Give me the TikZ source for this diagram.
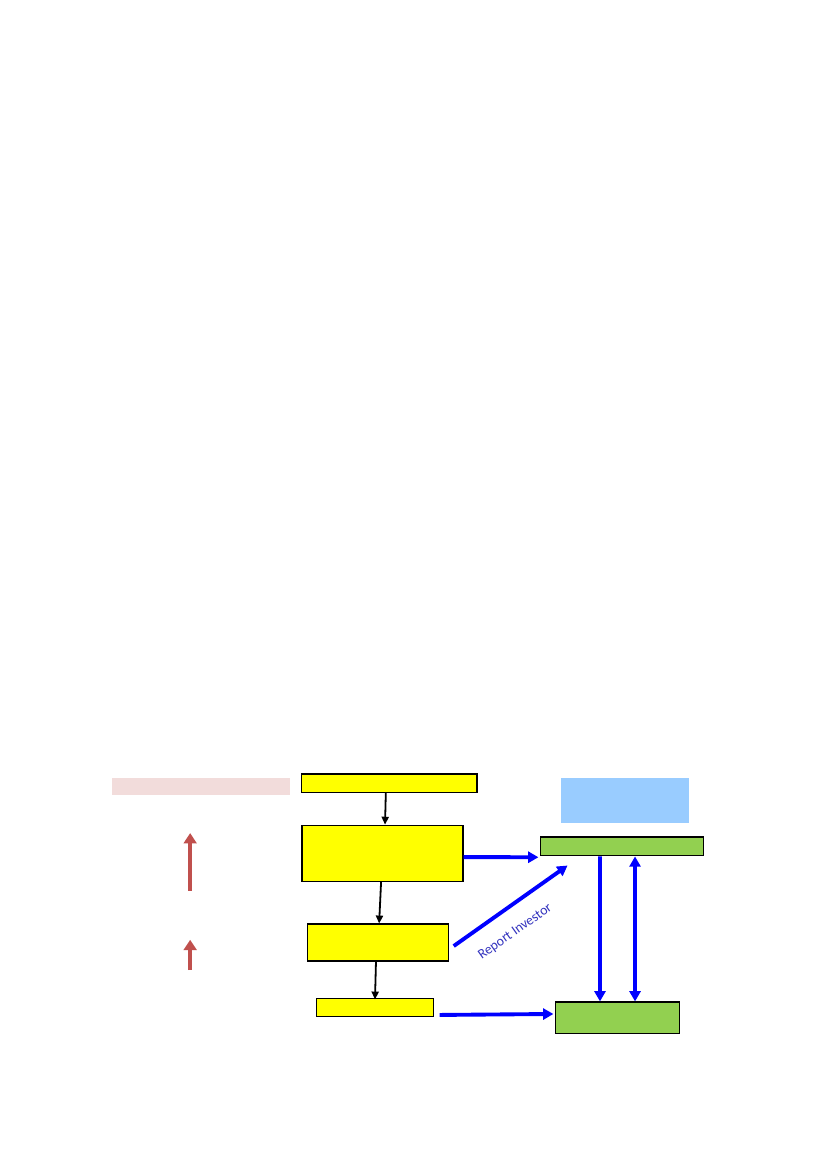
\documentclass[tikz,border=0pt]{standalone}
\usepackage{fontspec}
\setmainfont{Carlito}
\usetikzlibrary{arrows.meta}
\definecolor{boxyellow}{RGB}{255,255,0}
\definecolor{boxgreen}{RGB}{146,208,80}
\definecolor{boxblue}{RGB}{153,204,255}
\definecolor{boxpink}{RGB}{242,220,219}
\definecolor{uparrow}{RGB}{192,80,77}
\definecolor{labelblue}{RGB}{51,51,190}
\begin{document}
\begin{tikzpicture}[x=1mm,y=-1mm,
    ybox/.style={draw=black,line width=0.8pt,fill=boxyellow,inner sep=0pt},
    gbox/.style={draw=black,line width=0.8pt,fill=boxgreen,inner sep=0pt},
    flatbox/.style={inner sep=0pt,outer sep=0pt},
    karrow/.style={-{Triangle[length=2mm,width=1.8mm]},line width=1.3pt,black},
    barrow/.style={-{Triangle[length=2.6mm,width=2.8mm]},line width=2.8pt,blue},
    rarrow/.style={-{Triangle[length=2.6mm,width=3.2mm]},line width=2.9pt,uparrow}]
  \useasboundingbox (0,0) rectangle (210.06,296.93);
        \node[flatbox,fill=boxpink,minimum width=45.2mm,minimum height=4.3mm] (pink) at (51.05,199.75) {};
        \node[flatbox,fill=boxblue,minimum width=32.5mm,minimum height=11.4mm] (sky) at (158.8,203.3) {};
        \node[ybox,minimum width=44.5mm,minimum height=4.6mm] (top) at (98.9,198.9) {};
        \node[ybox,minimum width=40.9mm,minimum height=14.2mm] (mid) at (97.15,216.7) {};
        \node[ybox,minimum width=36.0mm,minimum height=9.4mm] (third) at (96.0,239.4) {};
        \node[ybox,minimum width=29.7mm,minimum height=4.6mm] (low) at (95.35,256.0) {};
        \node[gbox,minimum width=41.4mm,minimum height=4.8mm] (gup) at (158.1,215.0) {};
        \node[gbox,minimum width=31.5mm,minimum height=8.1mm] (gdown) at (156.95,258.55) {};
        \coordinate (bigbase) at (48.3,226.3);
        \coordinate (bigtip) at (48.3,211.6);
        \coordinate (smallbase) at (48.3,246.4);
        \coordinate (smalltip) at (48.3,238.7);
        \draw[karrow] ([xshift=-0.9mm]top.south) -- ([xshift=0.65mm]mid.north);
        \draw[karrow] ([xshift=-0.35mm]mid.south) -- ([xshift=0.3mm]third.north);
        \draw[karrow] ([xshift=-0.5mm]third.south) -- ([xshift=-0.1mm,yshift=-0.3mm]low.north);
        \draw[barrow] ([yshift=-1mm]mid.east) -- ([xshift=-0.5mm,yshift=-0.2mm]gup.south west);
        \draw[barrow] ([xshift=1.1mm,yshift=-0.9mm]third.east) -- ([xshift=6.9mm,yshift=-2.3mm]gup.south west)
            node[pos=0.42,sloped,below=3mm,text=labelblue,font=\fontsize{10}{12}\selectfont] {Report Investor};
        \draw[barrow] ([xshift=1.3mm,yshift=-1.8mm]low.east) -- ([xshift=-0.5mm,yshift=1mm]gdown.west);
        \draw[barrow] ([xshift=-5.7mm]gup.south) -- ([xshift=-4.55mm]gdown.north);
        \draw[barrow,{Triangle[length=2.6mm,width=2.8mm]}-{Triangle[length=2.6mm,width=2.8mm]}] ([xshift=3.2mm]gup.south) -- ([xshift=4.35mm]gdown.north);
        \draw[rarrow] (bigbase) -- (bigtip);
        \draw[rarrow] (smallbase) -- (smalltip);
\end{tikzpicture}
\end{document}
